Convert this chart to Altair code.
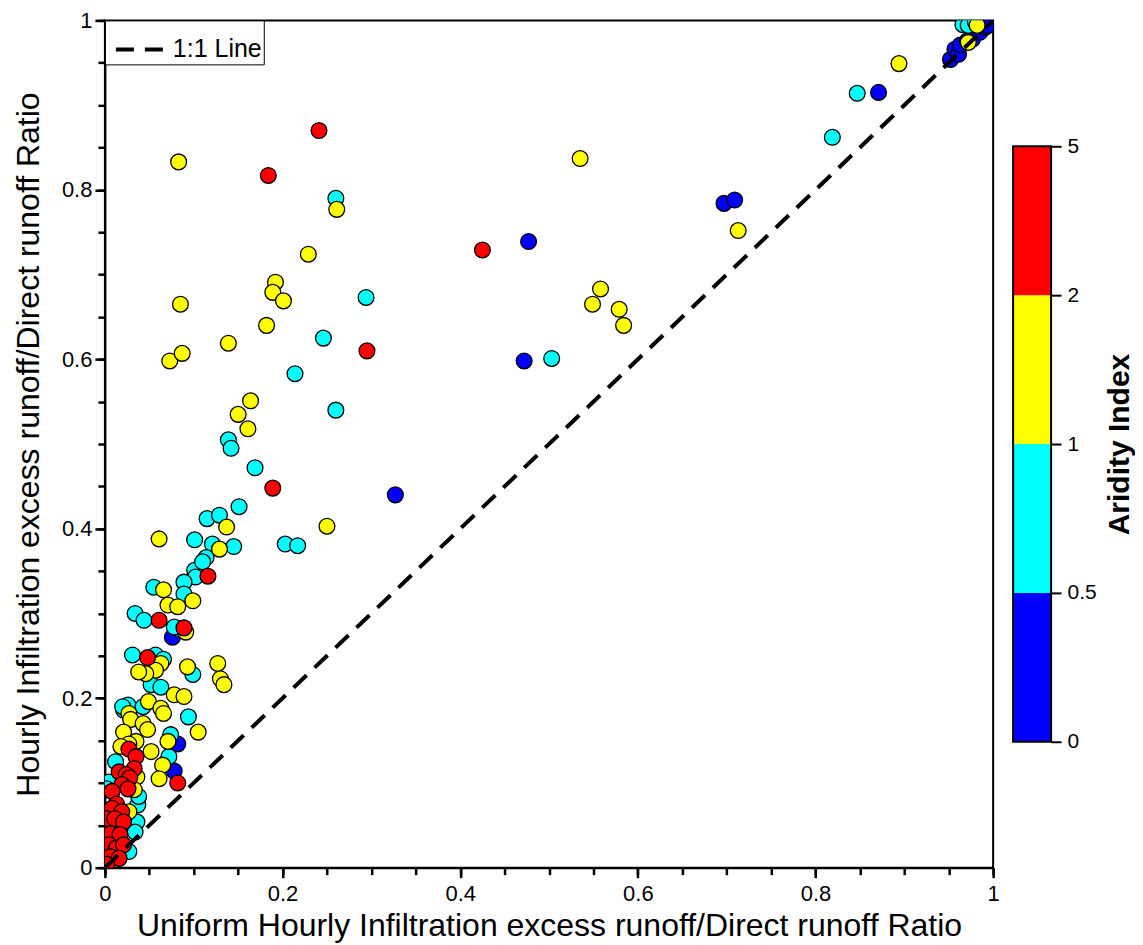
import altair as alt
import pandas as pd

# ---------------- data ----------------
classes = ["0-0.5", "0.5-1", "1-2", "2-5"]
class_colors = ["#0000ff", "#00ffff", "#ffff00", "#ff0000"]
colorbar_labels = ["0", "0.5", "1", "2", "5"]

blue_x = [0.477, 0.472, 0.327, 0.697, 0.709, 0.871, 0.076, 0.082, 0.078, 0.952,
          0.957, 0.961, 0.963, 0.971, 0.977, 0.985, 0.991, 0.994]
blue_y = [0.739, 0.598, 0.440, 0.784, 0.788, 0.915, 0.272, 0.146, 0.114, 0.954,
          0.966, 0.960, 0.971, 0.976, 0.978, 0.986, 0.992, 0.994]

cyan_x = [0.260, 0.294, 0.246, 0.214, 0.260, 0.503, 0.819, 0.847, 0.966, 0.972, 0.980,
          0.139, 0.142, 0.169, 0.151, 0.115, 0.129, 0.101, 0.121, 0.145, 0.203, 0.217,
          0.114, 0.101, 0.110, 0.102, 0.089, 0.055, 0.089, 0.083, 0.078, 0.034, 0.044,
          0.031, 0.057, 0.066, 0.099, 0.052, 0.063, 0.026, 0.021, 0.094, 0.074, 0.072,
          0.0045, 0.002, 0.037, 0.036, 0.034, 0.027, 0.038, 0.012, 0.043, 0.020]
cyan_y = [0.790, 0.673, 0.625, 0.583, 0.540, 0.601, 0.862, 0.914, 0.995, 0.994, 0.998,
          0.505, 0.495, 0.472, 0.426, 0.412, 0.416, 0.387, 0.382, 0.379, 0.382, 0.380,
          0.366, 0.351, 0.361, 0.343, 0.337, 0.331, 0.323, 0.282, 0.284, 0.300, 0.292,
          0.251, 0.251, 0.246, 0.228, 0.216, 0.213, 0.192, 0.186, 0.178, 0.157, 0.131,
          0.101, 0.093, 0.074, 0.054, 0.042, 0.019, 0.084, 0.125, 0.190, 0.190]

yellow_x = [0.083, 0.085, 0.073, 0.087, 0.192, 0.189, 0.201, 0.229, 0.261, 0.182, 0.139,
            0.535, 0.558, 0.549, 0.579, 0.584, 0.713, 0.894, 0.972, 0.982,
            0.164, 0.150, 0.161, 0.250, 0.137, 0.061, 0.129, 0.066, 0.099, 0.071, 0.082,
            0.091, 0.063, 0.057, 0.046, 0.038, 0.093, 0.127, 0.130, 0.134, 0.078, 0.089,
            0.049, 0.063, 0.066, 0.027, 0.029, 0.043, 0.048, 0.021, 0.105, 0.071, 0.035,
            0.027, 0.018, 0.052, 0.065, 0.036, 0.061, 0.033, 0.027, 0.009]
yellow_y = [0.833, 0.665, 0.598, 0.607, 0.691, 0.679, 0.669, 0.724, 0.777, 0.640, 0.619,
            0.837, 0.683, 0.665, 0.659, 0.640, 0.752, 0.949, 0.974, 0.994,
            0.551, 0.535, 0.518, 0.403, 0.402, 0.388, 0.376, 0.328, 0.315, 0.310, 0.308,
            0.278, 0.241, 0.233, 0.229, 0.231, 0.237, 0.241, 0.223, 0.216, 0.204, 0.202,
            0.196, 0.188, 0.182, 0.182, 0.175, 0.170, 0.163, 0.160, 0.160, 0.149, 0.149,
            0.146, 0.143, 0.137, 0.121, 0.107, 0.105, 0.092, 0.066, 0.060]

red_x = [0.241, 0.184, 0.425, 0.295, 0.189, 0.116, 0.061, 0.089, 0.048, 0.082,
         0.027, 0.035, 0.033, 0.016, 0.024, 0.028, 0.019, 0.026, 0.008, 0.013,
         0.008, 0.019, 0.002, 0.011, 0.021, 0.006, 0.017, 0.0045, 0.013, 0.021,
         0.006, 0.016, 0.002]
red_y = [0.870, 0.817, 0.729, 0.610, 0.448, 0.344, 0.292, 0.283, 0.248, 0.100,
         0.140, 0.131, 0.117, 0.113, 0.110, 0.106, 0.098, 0.093, 0.090, 0.075,
         0.070, 0.066, 0.058, 0.058, 0.054, 0.040, 0.039, 0.027, 0.023, 0.027,
         0.013, 0.011, 0.004]

one_to_one_x = [0.0, 1.0]
one_to_one_y = [0.0, 1.0]
one_to_one_name = "1:1 Line"

major_ticks = [0, 0.2, 0.4, 0.6, 0.8, 1]
minor_ticks = [round(i * 0.05, 2) for i in range(21)]

# ---------------- tables ----------------
rows = []
for cls, xs_, ys_ in [(classes[0], blue_x, blue_y), (classes[1], cyan_x, cyan_y),
                      (classes[2], yellow_x, yellow_y), (classes[3], red_x, red_y)]:
    for xv, yv in zip(xs_, ys_):
        rows.append({"x": xv, "y": yv, "cls": cls})
points_df = pd.DataFrame(rows)

line_df = pd.DataFrame({"x": one_to_one_x, "y": one_to_one_y,
                        "name": [one_to_one_name] * 2})

cb_lo = list(range(len(classes)))
cb_hi = [v + 1 for v in cb_lo]
cb_df = pd.DataFrame({"cls": classes, "lo": cb_lo, "hi": cb_hi})
cb_frame_df = pd.DataFrame({"lo": [min(cb_lo)], "hi": [max(cb_hi)]})

FONT = "Liberation Sans"
color_scale = alt.Scale(domain=classes, range=class_colors)

x_title = "Uniform Hourly Infiltration excess runoff/Direct runoff Ratio"
y_title = "Hourly Infiltration excess runoff/Direct runoff Ratio"
xs = alt.Scale(domain=[0, 1], nice=False, zero=False)
ys = alt.Scale(domain=[0, 1], nice=False, zero=False)

common = dict(tickWidth=2.5, tickColor="black", domainWidth=2, domainColor="black",
              grid=False, labelFont=FONT, titleFont=FONT, labelColor="black",
              titleColor="black", ticks=True)

x_major = alt.Axis(orient="bottom", values=major_ticks, format="~g", tickSize=10,
                   labelFontSize=22, labelPadding=6, labelFlush=False,
                   labelOverlap=False, title=x_title, titleFontSize=32,
                   titleFontWeight="normal", titlePadding=6, **common)
y_major = alt.Axis(orient="left", values=major_ticks, format="~g", tickSize=10,
                   labelFontSize=22, labelPadding=3, labelFlush=False,
                   labelOverlap=False, title=y_title, titleFontSize=32,
                   titleFontWeight="normal", titlePadding=16, **common)
x_minor = alt.Axis(orient="bottom", values=minor_ticks, tickSize=7, labels=False,
                   domain=False, title="", **common)
y_minor = alt.Axis(orient="left", values=minor_ticks, tickSize=7, labels=False,
                   domain=False, title="", **common)

points = alt.Chart(points_df).mark_circle(
    size=250, opacity=1, stroke="black", strokeWidth=1.3, clip=True
).encode(
    x=alt.X("x:Q", scale=xs, axis=x_major),
    y=alt.Y("y:Q", scale=ys, axis=y_major),
    color=alt.Color("cls:N", scale=color_scale, legend=None),
)

line = alt.Chart(line_df).mark_line(
    color="black", strokeWidth=4, clip=True
).encode(
    x=alt.X("x:Q", scale=xs, axis=x_minor),
    y=alt.Y("y:Q", scale=ys, axis=y_minor),
    strokeDash=alt.StrokeDash(
        "name:N",
        scale=alt.Scale(domain=[one_to_one_name], range=[[18, 11]]),
        legend=alt.Legend(
            title=None, orient="top-left", offset=0, padding=2,
            strokeColor="black", fillColor="white", cornerRadius=0,
            symbolType="stroke", symbolSize=2500, symbolStrokeWidth=4,
            symbolOffset=7, symbolStrokeColor="black",
            labelFontSize=25, labelFont=FONT, labelColor="black", labelOffset=5,
        ),
    ),
)

main = alt.layer(points, line).resolve_axis(x="independent", y="independent").properties(
    width=889, height=848,
    view=alt.ViewBackground(stroke="black", strokeWidth=2),
)

cb_scale = alt.Scale(domain=[-0.846, 4.846], nice=False, zero=False)
cb_axis = alt.Axis(
    orient="right", values=[0, 1, 2, 3, 4],
    labelExpr=f"{colorbar_labels}[datum.value]",
    domain=False, tickSize=10, tickWidth=2, tickColor="black",
    labelFontSize=21, labelFont=FONT, labelColor="black", labelPadding=6,
    title="Aridity Index", titleFontSize=30, titleFont=FONT,
    titleFontWeight="bold", titleColor="black", titleAngle=270,
    titleBaseline="top", titlePadding=8, grid=False,
)
cb_bars = alt.Chart(cb_df).mark_rect().encode(
    y=alt.Y("lo:Q", scale=cb_scale, axis=cb_axis),
    y2="hi:Q",
    color=alt.Color("cls:N", scale=color_scale, legend=None),
)
cb_frame = alt.Chart(cb_frame_df).mark_rect(
    fillOpacity=0, stroke="black", strokeWidth=2
).encode(
    y=alt.Y("lo:Q", scale=cb_scale, axis=cb_axis),
    y2="hi:Q",
)
colorbar = alt.layer(cb_bars, cb_frame).properties(width=38, height=848)

chart = alt.hconcat(main, colorbar, spacing=20, bounds="flush").properties(
    padding={"left": 3, "top": 0, "right": 0, "bottom": 0}
).configure(font=FONT).configure_view(stroke="transparent")

chart.save("out.html", embed_options={"renderer": "svg", "actions": False})
